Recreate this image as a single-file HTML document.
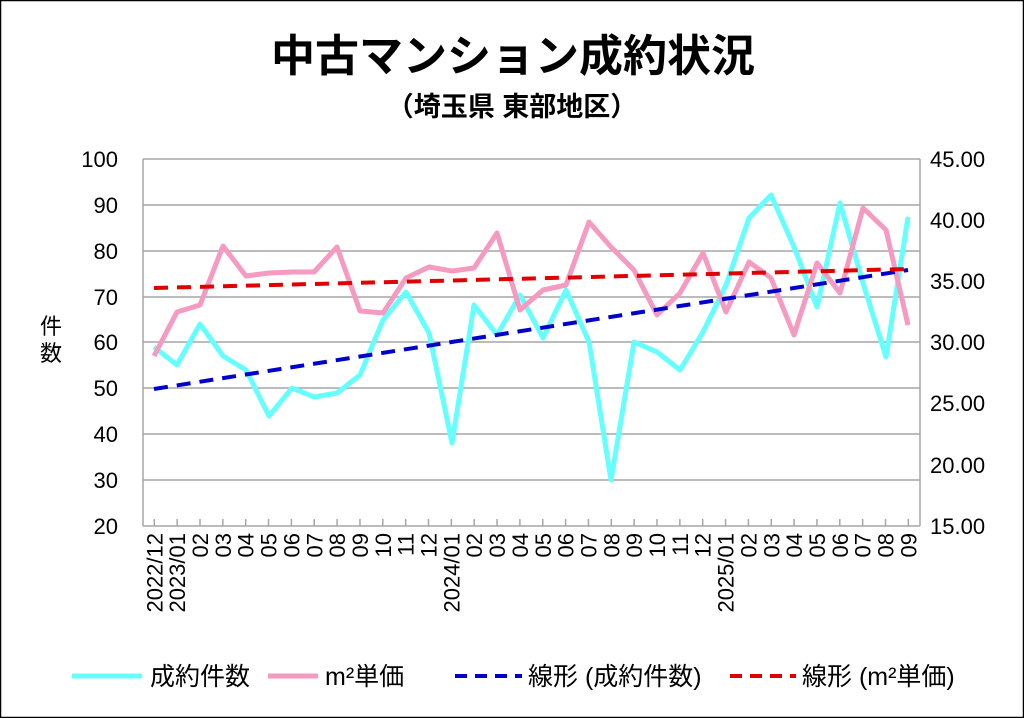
<!DOCTYPE html>
<html><head><meta charset="utf-8"><style>
html,body{margin:0;padding:0;background:#fff}
svg{display:block}
text{font-family:"Liberation Sans","Noto Sans CJK JP",sans-serif;fill:#000}
</style></head><body>
<svg width="1024" height="718" viewBox="0 0 1024 718" xmlns="http://www.w3.org/2000/svg">
<rect x="0.5" y="0.5" width="1023" height="717" fill="#fff" stroke="#000" stroke-width="1.5"/>
<text x="513" y="71" font-size="44" font-weight="bold" text-anchor="middle">中古マンション成約状況</text>
<text x="512" y="116" font-size="27" font-weight="bold" text-anchor="middle">（埼玉県 東部地区）</text>
<g stroke="#a6a6a6" stroke-width="1.5">
<line x1="143" y1="159" x2="920" y2="159"/><line x1="143" y1="205" x2="920" y2="205"/>
<line x1="143" y1="251" x2="920" y2="251"/><line x1="143" y1="297" x2="920" y2="297"/>
<line x1="143" y1="342" x2="920" y2="342"/><line x1="143" y1="388" x2="920" y2="388"/>
<line x1="143" y1="434" x2="920" y2="434"/><line x1="143" y1="480" x2="920" y2="480"/>
<line x1="143" y1="526" x2="920" y2="526"/>
<line x1="143" y1="159" x2="143" y2="526"/><line x1="920" y1="159" x2="920" y2="526"/>
</g>
<g stroke="#a6a6a6" stroke-width="1.5" id="ticks"></g>
<g font-size="22" text-anchor="end">
<text x="118" y="167">100</text><text x="118" y="213">90</text><text x="118" y="259">80</text>
<text x="118" y="305">70</text><text x="118" y="350">60</text><text x="118" y="396">50</text>
<text x="118" y="442">40</text><text x="118" y="488">30</text><text x="118" y="534">20</text>
</g>
<g font-size="22" text-anchor="start">
<text x="930" y="167">45.00</text><text x="930" y="228">40.00</text><text x="930" y="289">35.00</text>
<text x="930" y="350">30.00</text><text x="930" y="411">25.00</text><text x="930" y="473">20.00</text>
<text x="930" y="534">15.00</text>
</g>
<text x="51" y="334" font-size="22" text-anchor="middle">件</text>
<text x="51" y="361" font-size="22" text-anchor="middle">数</text>
<g id="xl" font-size="22"></g>
<polyline fill="none" stroke="#66ffff" stroke-width="5" stroke-linejoin="round" points="154,347 177,365 200,324 223,356 246,370 269,416 292,388 314,397 337,393 360,375 383,320 406,292 429,333 452,443 474,305 497,335 520,295 543,338 566,290 589,342 611,480 634,342 657,352 680,370 703,332 726,285 749,218 771,195 794,247 817,307 840,203 863,283 886,357 908,217"/>
<polyline fill="none" stroke="#f59ac0" stroke-width="5" stroke-linejoin="round" points="154,356 177,312 200,305 223,246 246,276 269,273 292,272 314,272 337,247 360,311 383,313 406,278 429,267 452,271 474,268 497,233 520,310 543,290 566,285 589,222 611,247 634,270 657,315 680,293 703,253 726,312 749,262 771,278 794,335 817,263 840,293 863,208 886,230 908,325"/>
<line x1="154" y1="389" x2="908" y2="270" stroke="#0000cc" stroke-width="4" stroke-dasharray="14,9"/>
<line x1="154" y1="288" x2="908" y2="269" stroke="#e00000" stroke-width="4" stroke-dasharray="14,9"/>
<g font-size="25">
<line x1="72" y1="676" x2="142" y2="676" stroke="#66ffff" stroke-width="5"/>
<text x="150" y="685">成約件数</text>
<line x1="268" y1="676" x2="318" y2="676" stroke="#f59ac0" stroke-width="5"/>
<text x="325" y="685">m²単価</text>
<line x1="455" y1="676" x2="522" y2="676" stroke="#0000cc" stroke-width="4" stroke-dasharray="12,8"/>
<text x="528" y="685">線形 (成約件数)</text>
<line x1="730" y1="676" x2="796" y2="676" stroke="#e00000" stroke-width="4" stroke-dasharray="12,8"/>
<text x="802" y="685">線形 (m²単価)</text>
</g>
</svg>
<script>
var labs=["2022/12","2023/01","02","03","04","05","06","07","08","09","10","11","12","2024/01","02","03","04","05","06","07","08","09","10","11","12","2025/01","02","03","04","05","06","07","08","09"];
var ns="http://www.w3.org/2000/svg",g=document.getElementById("xl"),t=document.getElementById("ticks");
labs.forEach(function(l,i){var x=154.3+22.85*i;
var e=document.createElementNS(ns,"text");e.setAttribute("transform","translate("+(x+8)+",533) rotate(-90)");e.setAttribute("text-anchor","end");e.textContent=l;g.appendChild(e);
var k=document.createElementNS(ns,"line");k.setAttribute("x1",x);k.setAttribute("x2",x);k.setAttribute("y1",519);k.setAttribute("y2",526);t.appendChild(k);});
</script>
</body></html>
